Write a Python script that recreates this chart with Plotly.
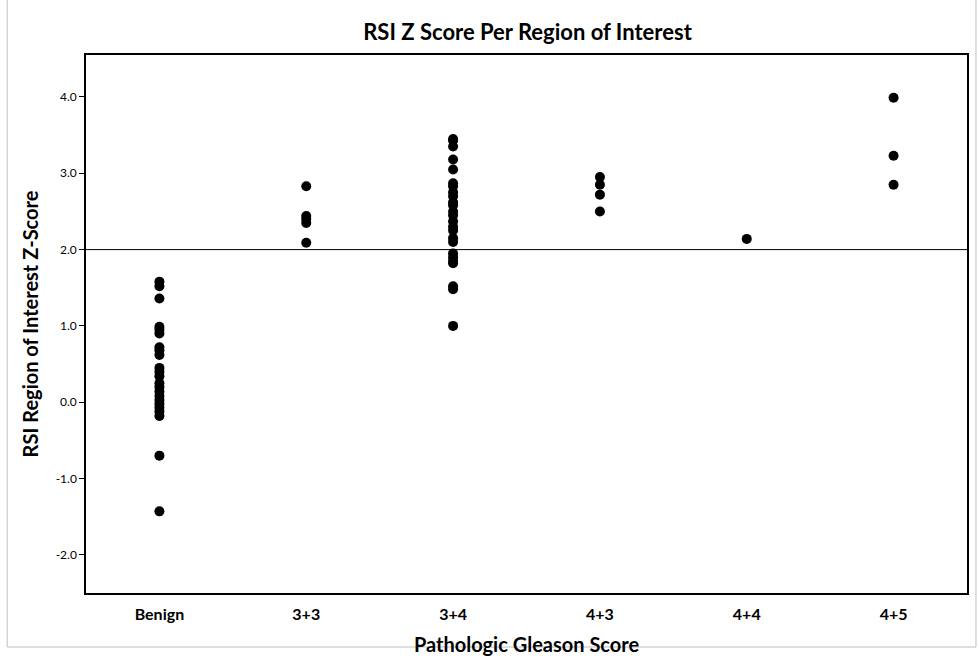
import plotly.graph_objects as go

categories = ["Benign", "3+3", "3+4", "4+3", "4+4", "4+5"]

benign = [1.58, 1.52, 1.36, 0.99, 0.95, 0.90, 0.72, 0.68, 0.62, 0.45, 0.40, 0.34,
          0.25, 0.20, 0.14, 0.08, 0.03, -0.02, -0.07, -0.12, -0.18, -0.70, -1.43]
g33 = [2.83, 2.44, 2.40, 2.35, 2.09]
g34 = [3.45, 3.43, 3.35, 3.18, 3.05, 2.87, 2.83, 2.75, 2.70, 2.62, 2.58, 2.50,
       2.45, 2.37, 2.30, 2.25, 2.15, 2.10, 1.95, 1.90, 1.85, 1.82, 1.52, 1.48, 1.00]
g43 = [2.95, 2.85, 2.72, 2.50]
g44 = [2.14]
g45 = [3.99, 3.23, 2.85]

groups = [benign, g33, g34, g43, g44, g45]
threshold = 2.0
y_ticks = [-2.0, -1.0, 0.0, 1.0, 2.0, 3.0, 4.0]

xs, ys = [], []
for i, vals in enumerate(groups):
    xs += [i] * len(vals)
    ys += vals

W, H = 979, 666
ml, mr, mt, mb = 86, 10, 55, 73

fig = go.Figure()
fig.add_trace(go.Scatter(
    x=xs, y=ys, mode="markers",
    marker=dict(color="black", size=10),
    showlegend=False, hoverinfo="skip",
))

fig.add_shape(type="line", xref="paper", yref="y", x0=0, x1=1,
              y0=threshold, y1=threshold, line=dict(color="black", width=1))

pw, ph = W - ml - mr, H - mt - mb
# outer light-gray frame around whole chart
fig.add_shape(type="rect", xref="paper", yref="paper",
              x0=(7 - ml) / pw, x1=(978 - ml) / pw,
              y0=(H - mt - 665) / ph, y1=(H - mt - 1) / ph,
              line=dict(color="#BFBFBF", width=1), fillcolor="rgba(0,0,0,0)", layer="below")

font_fam = "Lato, Open Sans, sans-serif"
fig.update_layout(
    width=W, height=H,
    margin=dict(l=ml, r=mr, t=mt, b=mb),
    paper_bgcolor="white", plot_bgcolor="white",
    font=dict(family=font_fam, color="black"),
    title=dict(text="<b>RSI Z Score Per Region of Interest</b>", x=0.5 * (ml + W - mr) / W,
               xanchor="center", y=1 - 32 / H, yanchor="middle",
               font=dict(size=22, family=font_fam, color="black")),
    xaxis=dict(
        range=[-0.5, 5.5], tickmode="array", tickvals=list(range(len(categories))),
        ticktext=["<b>%s</b>" % c for c in categories],
        tickfont=dict(size=16), showgrid=False, zeroline=False,
        showline=True, linecolor="black", linewidth=1.5, mirror=True,
        ticks="", ticklabelstandoff=6,
        title=dict(text="<b>Pathologic Gleason Score</b>", font=dict(size=20), standoff=16),
    ),
    yaxis=dict(
        range=[-2.5, 4.55], tickmode="array", tickvals=y_ticks,
        ticktext=["%.1f" % v for v in y_ticks], tickfont=dict(size=12),
        showgrid=False, zeroline=False, showline=True, linecolor="black",
        linewidth=1.5, mirror=True, ticks="outside", ticklen=5, tickcolor="black",
        title=dict(text="<b>RSI Region of Interest Z-Score</b>", font=dict(size=20), standoff=12),
    ),
)

fig.write_html("out.html")
